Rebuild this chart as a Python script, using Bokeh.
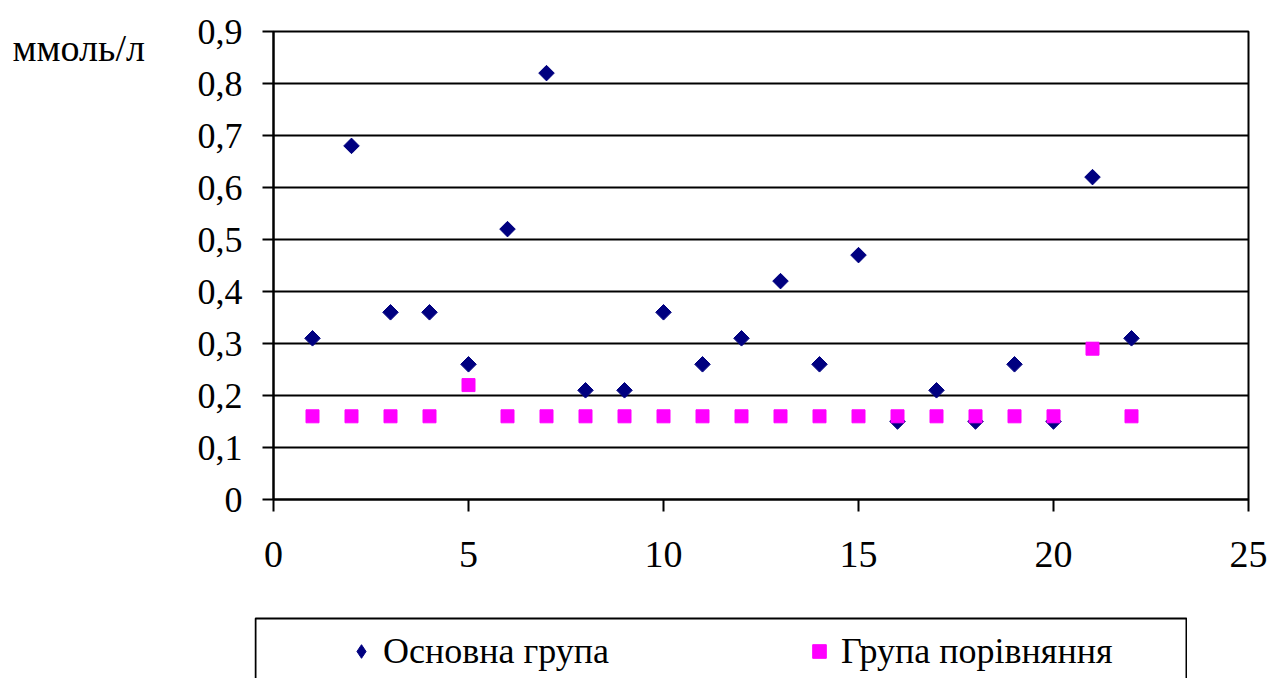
from bokeh.plotting import figure
from bokeh.models import (Range1d, FixedTicker, Legend, LegendItem,
                          ColumnDataSource, Spacer)
from bokeh.core.properties import value
from bokeh.layouts import column, row
from bokeh.embed import file_html
from bokeh.resources import INLINE
import math

# Patient numbers and measured values, mmol/L
patients = list(range(1, 23))
main_group = [0.31, 0.68, 0.36, 0.36, 0.26, 0.52, 0.82, 0.21, 0.21, 0.36, 0.26,
              0.31, 0.42, 0.26, 0.47, 0.15, 0.21, 0.15, 0.26, 0.15, 0.62, 0.31]
comparison_group = [0.16, 0.16, 0.16, 0.16, 0.22, 0.16, 0.16, 0.16, 0.16, 0.16, 0.16,
                    0.16, 0.16, 0.16, 0.16, 0.16, 0.16, 0.16, 0.16, 0.16, 0.29, 0.16]

y_ticks = [0, 0.1, 0.2, 0.3, 0.4, 0.5, 0.6, 0.7, 0.8, 0.9]
y_tick_labels = ["0", "0,1", "0,2", "0,3", "0,4", "0,5", "0,6", "0,7", "0,8", "0,9"]
x_ticks = [0, 5, 10, 15, 20, 25]

series_names = ["Основна група", "Група порівняння"]
unit_label = "ммоль/л"

FONT = "Liberation Serif"
NAVY = "#000080"
MAGENTA = "#FF00FF"
DIAMOND = dict(marker="square", angle=math.pi / 4, fill_color=NAVY, line_color=NAVY)
SQUARE = dict(marker="square", fill_color=MAGENTA, line_color=MAGENTA)

main_src = ColumnDataSource(dict(x=patients, y=main_group))
comp_src = ColumnDataSource(dict(x=patients, y=comparison_group))


def bare(fig):
    fig.outline_line_color = None
    fig.background_fill_color = "white"
    fig.border_fill_color = "white"
    fig.grid.visible = False
    return fig


# --- unit caption column on the far left (pixel-sized ranges) ---
p_unit = bare(figure(width=190, height=616, output_backend="svg", toolbar_location=None,
                     x_axis_type=None, y_axis_type=None, min_border=0,
                     x_range=Range1d(0, 190), y_range=Range1d(616, 0)))
p_unit.text(x=[12], y=[22], text=[unit_label], text_font=value(FONT),
            text_font_size="38px", text_baseline="middle", text_align="left",
            text_color="black")

# --- main scatter chart ---
p = figure(width=1077, height=616, output_backend="svg", toolbar_location=None,
           x_range=Range1d(0, 25), y_range=Range1d(0, 0.9),
           min_border_left=83, min_border_right=19,
           min_border_top=31, min_border_bottom=117)
p.background_fill_color = "white"
p.border_fill_color = "white"
p.outline_line_color = "black"
p.outline_line_width = 2

p.scatter("x", "y", source=main_src, size=11, **DIAMOND)
p.scatter("x", "y", source=comp_src, size=13, **SQUARE)

p.xgrid.visible = False
p.ygrid.grid_line_color = "black"
p.ygrid.grid_line_width = 2
p.ygrid.ticker = FixedTicker(ticks=y_ticks)

for ax in (p.xaxis[0], p.yaxis[0]):
    ax.axis_line_color = "black"
    ax.axis_line_width = 2
    ax.major_tick_line_color = "black"
    ax.major_tick_line_width = 2
    ax.major_tick_in = 0
    ax.minor_tick_line_color = None
    ax.major_label_text_font = FONT
    ax.major_label_text_color = "black"

p.yaxis.ticker = FixedTicker(ticks=y_ticks)
p.yaxis.major_label_overrides = {t: s for t, s in zip(y_ticks, y_tick_labels)}
p.yaxis.major_label_text_font_size = "36px"
p.yaxis.major_tick_out = 11
p.yaxis.major_label_standoff = 20

p.xaxis.ticker = FixedTicker(ticks=x_ticks)
p.xaxis.major_label_text_font_size = "38px"
p.xaxis.major_tick_out = 12
p.xaxis.major_label_standoff = 30

# --- legend strip below the chart ---
p_leg = bare(figure(width=933, height=62, output_backend="svg", toolbar_location=None,
                    x_axis_type=None, y_axis_type=None, min_border=0,
                    x_range=Range1d(0, 933), y_range=Range1d(0, 62)))
# open-bottomed frame around the legend
p_leg.quad(left=1, right=932, top=60, bottom=-10, fill_color=None,
           line_color="black", line_width=2)
# hidden renderers that only supply the legend swatches
leg_main = p_leg.scatter("x", "y", source=main_src, visible=False, marker="diamond",
                         fill_color=NAVY, line_color=NAVY)
leg_comp = p_leg.scatter("x", "y", source=comp_src, visible=False, **SQUARE)

legend = Legend(items=[LegendItem(label=series_names[0], renderers=[leg_main]),
                       LegendItem(label=series_names[1], renderers=[leg_comp])],
                orientation="horizontal", location=(90, 6),
                padding=0, margin=0, spacing=189, label_width=230,
                glyph_width=34, glyph_height=34, label_standoff=5,
                label_text_font=FONT, label_text_font_size="36px",
                label_text_color="black", border_line_alpha=0,
                background_fill_alpha=0)
p_leg.add_layout(legend, "center")

layout = column(row(p_unit, p), row(Spacer(width=254, height=62), p_leg),
                spacing=0)
open("out.html", "w").write(file_html(layout, INLINE))
